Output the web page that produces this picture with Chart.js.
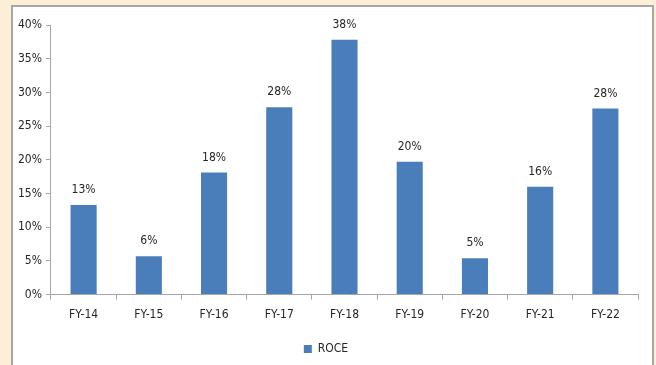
<!DOCTYPE html>
<html>
<head>
<meta charset="utf-8">
<script src="https://cdn.jsdelivr.net/npm/chart.js@4/dist/chart.umd.min.js"></script>
<style>
  html, body { margin: 0; padding: 0; background: #fdefd5; overflow: hidden; }
  #box { position: absolute; left: 11px; top: 5px; width: 639px; height: 380px;
         background: #fff; border: 2px solid #a6a6a6; }
  canvas { display: block; }
</style>
</head>
<body>
<div id="box"><canvas id="roceChart" width="639" height="362"></canvas></div>
<script>
// ROCE by financial year
const years = ['FY-14', 'FY-15', 'FY-16', 'FY-17', 'FY-18', 'FY-19', 'FY-20', 'FY-21', 'FY-22'];
const roce = [13.3, 5.7, 18.1, 27.8, 37.8, 19.7, 5.4, 16.0, 27.6];
const yTicks = [0, 5, 10, 15, 20, 25, 30, 35, 40];

const barColor = '#4a7ebb';
const axisColor = '#a6a6a6';
const fontFamily = "'Liberation Sans Narrow', 'DejaVu Sans Condensed', sans-serif";

// draws the rounded % above each bar
const valueLabels = {
    id: 'valueLabels',
    afterDatasetsDraw(chart) {
        const ctx = chart.ctx;
        ctx.save();
        ctx.font = '12px ' + fontFamily;
        ctx.fillStyle = '#262626';
        ctx.textAlign = 'center';
        ctx.textBaseline = 'bottom';
        chart.getDatasetMeta(0).data.forEach((bar, i) => {
            ctx.fillText(Math.round(roce[i]) + '%', bar.x, bar.y - 9);
        });
        ctx.restore();
    }
};

new Chart(document.getElementById('roceChart').getContext('2d'), {
    type: 'bar',
    data: {
        labels: years,
        datasets: [{
            label: 'ROCE',
            data: roce,
            backgroundColor: barColor,
            borderWidth: 0,
            categoryPercentage: 1,
            barPercentage: 0.4
        }]
    },
    options: {
        responsive: false,
        animation: false,
        layout: { padding: { left: 1, right: 14, top: 18, bottom: 4 } },
        scales: {
            x: {
                grid: { display: true, drawOnChartArea: false, drawTicks: true, tickLength: 5, color: axisColor },
                border: { color: axisColor, width: 1 },
                ticks: { color: '#262626', font: { family: fontFamily, size: 12 }, padding: 8 }
            },
            y: {
                min: 0,
                max: 40,
                afterBuildTicks: axis => { axis.ticks = yTicks.map(v => ({ value: v })); },
                grid: { display: true, drawOnChartArea: false, drawTicks: true, tickLength: 5, color: axisColor },
                border: { color: axisColor, width: 1 },
                ticks: { color: '#262626', font: { family: fontFamily, size: 12 }, padding: 4,
                         callback: v => v + '%' }
            }
        },
        plugins: {
            legend: {
                position: 'bottom',
                labels: { boxWidth: 8, boxHeight: 8, color: '#262626', padding: 13,
                          font: { family: fontFamily, size: 12 } }
            },
            tooltip: { enabled: false }
        }
    },
    plugins: [valueLabels]
});
</script>
</body>
</html>
